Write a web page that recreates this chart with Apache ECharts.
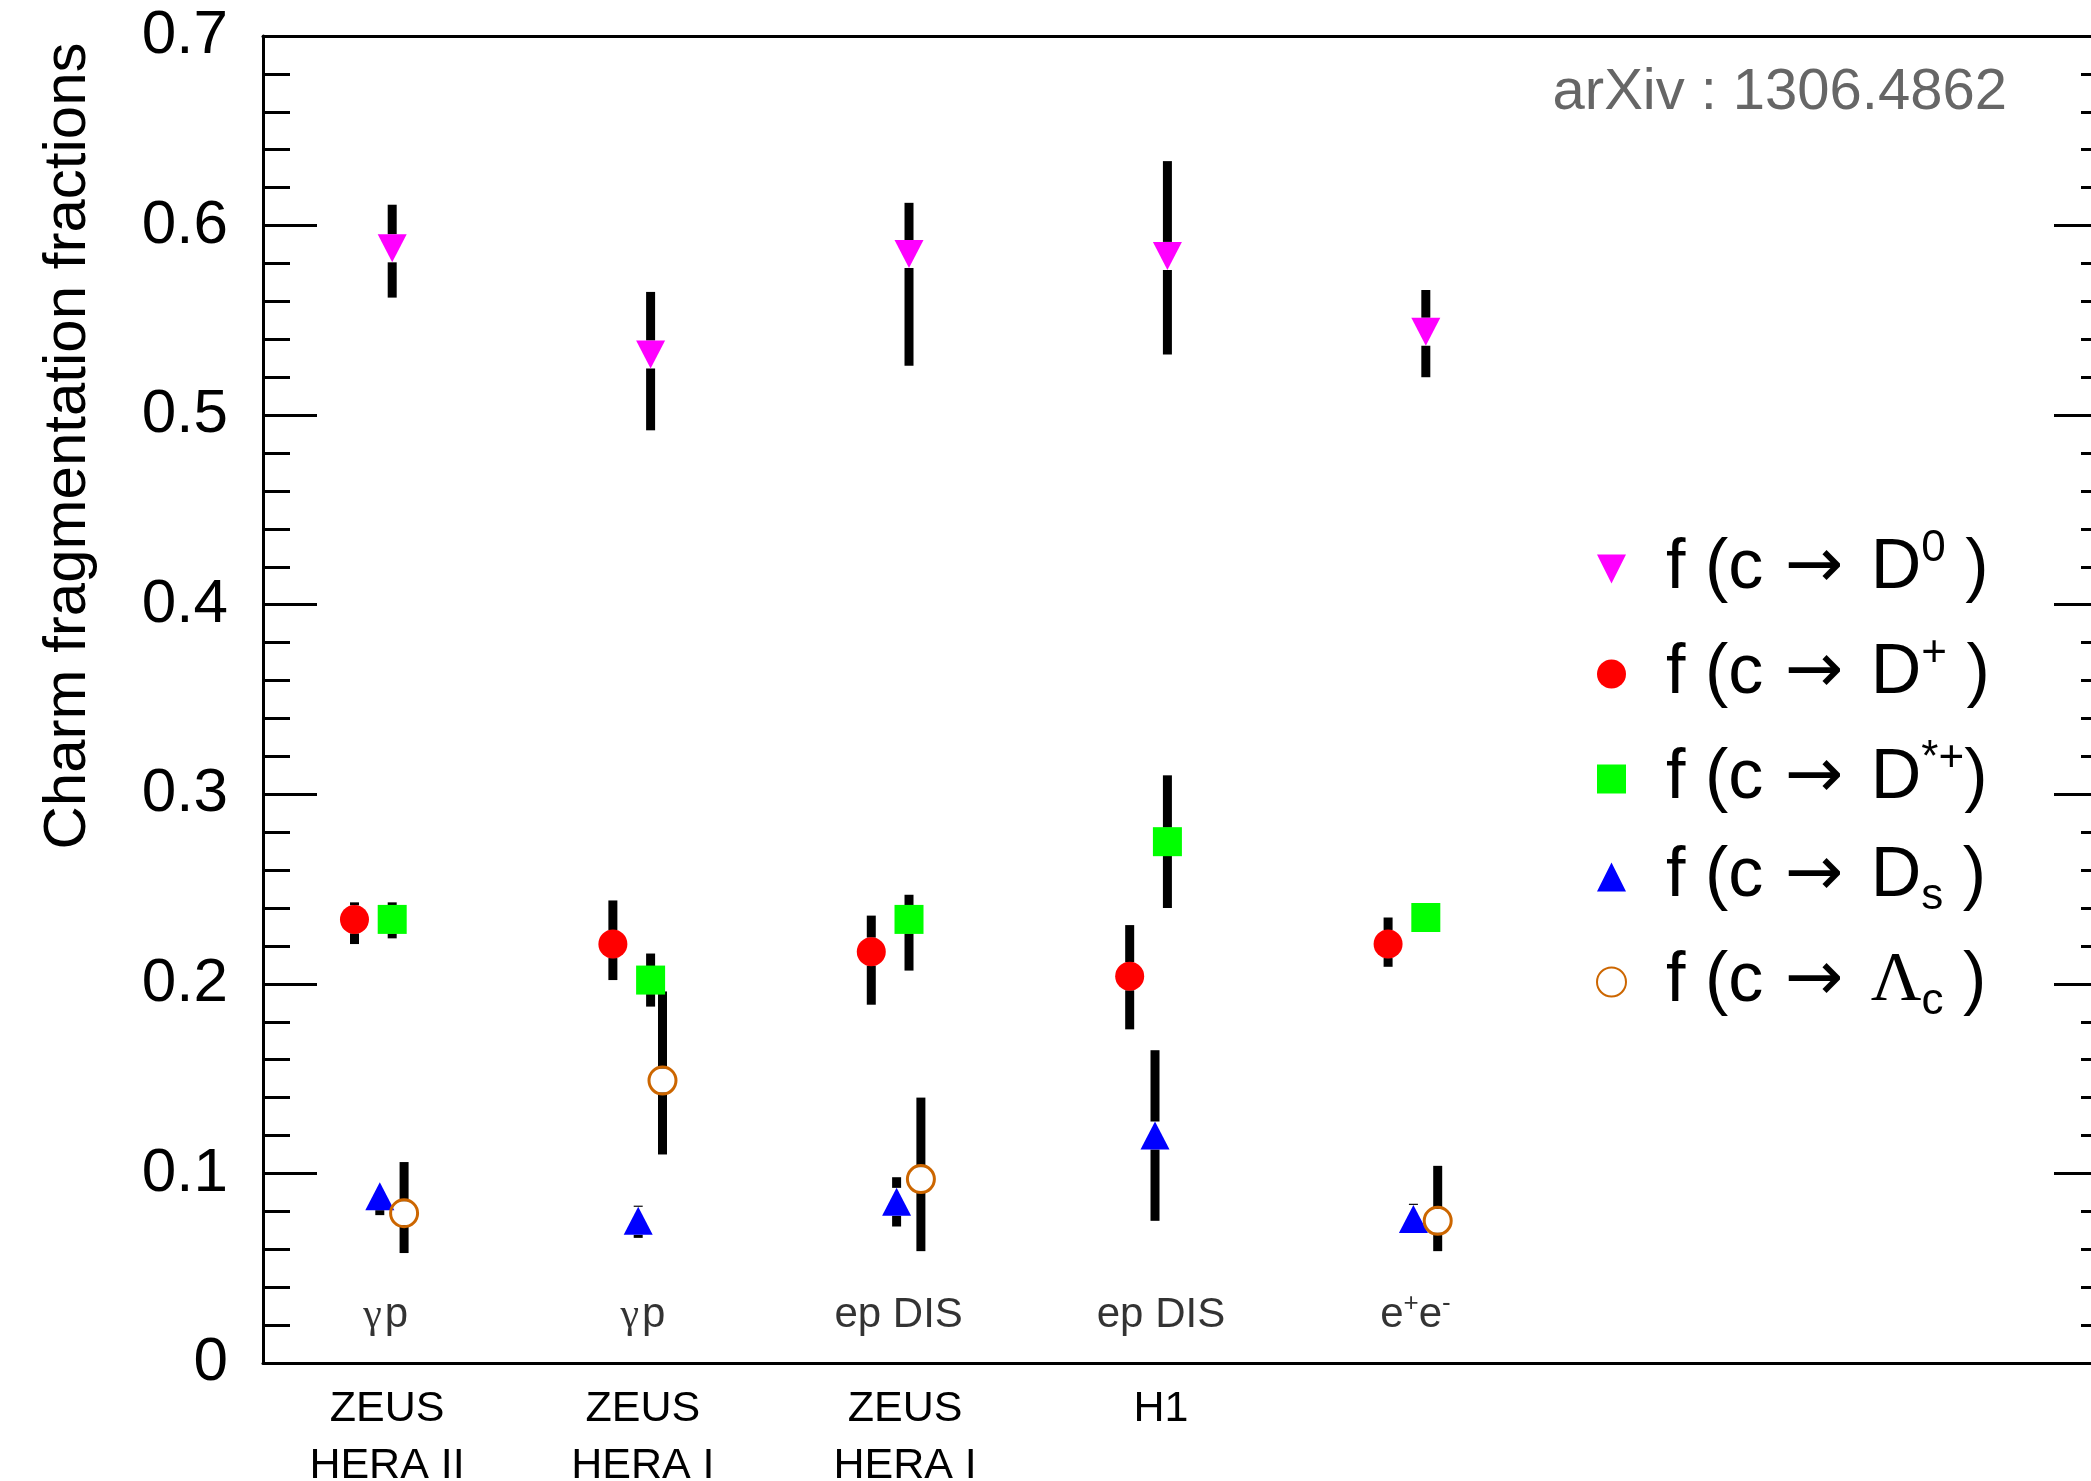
<!DOCTYPE html>
<html>
<head>
<meta charset="utf-8">
<script src="https://cdn.jsdelivr.net/npm/echarts@6/dist/echarts.min.js"></script>
<style>
html, body { margin: 0; padding: 0; background: #fff; }
#main { width: 2091px; height: 1481px; }
</style>
</head>
<body>
<div id="main"></div>
<script>
// experiments (below the axis) and processes (inside the frame)
var experiments = ['ZEUS\nHERA II', 'ZEUS\nHERA I', 'ZEUS\nHERA I', 'H1'];
var expLabelX = [0.98, 1.97, 2.985, 3.975];
var processes = ['γp', 'γp', 'ep DIS', 'ep DIS', 'e+e-'];
var procLabelX = [0.975, 1.97, 2.96, 3.975, 4.96];
var procLabelY = 0.025;
var groupX = [1, 2, 3, 4, 5];

var yTickLabels = ['0', '0.1', '0.2', '0.3', '0.4', '0.5', '0.6', '0.7'];

// f(c -> D0)
var d0Val = [0.588, 0.532, 0.585, 0.584, 0.544];
var d0Lo  = [0.562, 0.492, 0.526, 0.532, 0.520];
var d0Hi  = [0.611, 0.565, 0.612, 0.634, 0.566];
// f(c -> D+)
var dpVal = [0.234, 0.221, 0.217, 0.204, 0.221];
var dpLo  = [0.221, 0.202, 0.189, 0.176, 0.209];
var dpHi  = [0.243, 0.244, 0.236, 0.231, 0.235];
// f(c -> D*+)
var dstVal = [0.234, 0.202, 0.234, 0.275, 0.235];
var dstLo  = [0.224, 0.188, 0.207, 0.240, 0.229];
var dstHi  = [0.243, 0.216, 0.247, 0.310, 0.240];
// f(c -> Ds)
var dsVal = [0.088, 0.075, 0.085, 0.120, 0.076];
var dsLo  = [0.078, 0.066, 0.072, 0.075, 0.069];
var dsHi  = [0.095, 0.083, 0.098, 0.165, 0.084];
// f(c -> Lambda_c), no H1 value
var lcVal = [0.079, 0.149, 0.097, null, 0.075];
var lcLo  = [0.058, 0.110, 0.059, null, 0.059];
var lcHi  = [0.106, 0.196, 0.140, null, 0.104];

var species = [
    { name: 'D0',  val: d0Val,  lo: d0Lo,  hi: d0Hi,  dx: 0,      symbol: 'triangle', rotate: 180, size: [29, 28], color: '#ff00ff', gap: 14 },
    { name: 'D+',  val: dpVal,  lo: dpLo,  hi: dpHi,  dx: -0.146, symbol: 'circle',   rotate: 0,   size: 29,       color: '#ff0000', gap: 14 },
    { name: 'D*+', val: dstVal, lo: dstLo, hi: dstHi, dx: 0,      symbol: 'rect',     rotate: 0,   size: 29,       color: '#00ff00', gap: 14 },
    { name: 'Ds',  val: dsVal,  lo: dsLo,  hi: dsHi,  dx: -0.048, symbol: 'triangle', rotate: 0,   size: [29, 28], color: '#0000ff', gap: 14 },
    { name: 'Lc',  val: lcVal,  lo: lcLo,  hi: lcHi,  dx: 0.046,  symbol: 'circle',   rotate: 0,   size: 27,       color: '#cc6600', gap: 12, open: true }
];

var legendText = {
    'D0':  '{p|f (c }{arr|→}{m| D}{sup|0}{m| )}',
    'D+':  '{p|f (c }{arr|→}{m| D}{sup|+}{m| )}',
    'D*+': '{p|f (c }{arr|→}{m| D}{sup|*+}{m|)}',
    'Ds':  '{p|f (c }{arr|→}{m| D}{sub|s}{m| )}',
    'Lc':  '{p|f (c }{arr|→}{m| }{lam|Λ}{sub|c}{m| )}'
};

function procRich(t) {
    if (t === 'γp') return '{g|γ}{p|p}';
    if (t === 'e+e-') return '{t|e}{s|+}{t|e}{s|-}';
    return '{t|' + t + '}';
}

var myChart = echarts.init(document.getElementById('main'));

var series = [];
species.forEach(function (sp) {
    var errData = [], ptData = [];
    groupX.forEach(function (gx, i) {
        if (sp.val[i] == null) return;
        errData.push([gx + sp.dx, sp.lo[i], sp.hi[i], sp.val[i]]);
        ptData.push([gx + sp.dx, sp.val[i]]);
    });
    // error bar, split around the marker like ROOT does
    series.push({
        name: 'err ' + sp.name,
        type: 'custom',
        z: 2,
        silent: true,
        data: errData,
        renderItem: function (params, api) {
            var x = api.value(0);
            var top = api.coord([x, api.value(2)]);
            var bot = api.coord([x, api.value(1)]);
            var mid = api.coord([x, api.value(3)]);
            var w = 9, kids = [];
            if (mid[1] - sp.gap > top[1]) {
                kids.push({ type: 'rect', shape: { x: top[0] - w / 2, y: top[1], width: w, height: mid[1] - sp.gap - top[1] }, style: { fill: '#000' } });
            }
            if (bot[1] > mid[1] + sp.gap) {
                kids.push({ type: 'rect', shape: { x: top[0] - w / 2, y: mid[1] + sp.gap, width: w, height: bot[1] - mid[1] - sp.gap }, style: { fill: '#000' } });
            }
            return { type: 'group', children: kids };
        }
    });
    series.push({
        name: sp.name,
        type: 'scatter',
        z: 3,
        symbol: sp.symbol,
        symbolRotate: sp.rotate,
        symbolSize: sp.size,
        itemStyle: sp.open
            ? { color: 'rgba(0,0,0,0)', borderColor: sp.color, borderWidth: 3, opacity: 1 }
            : { color: sp.color, opacity: 1 },
        data: ptData
    });
});

// process labels inside the frame
series.push({
    name: 'process',
    type: 'scatter',
    symbolSize: 1,
    itemStyle: { color: 'rgba(0,0,0,0)' },
    silent: true,
    data: procLabelX.map(function (x, i) { return { value: [x, procLabelY], name: processes[i] }; }),
    label: {
        show: true,
        position: 'inside',
        formatter: function (p) { return procRich(p.name); },
        rich: {
            t: { fontSize: 42, fontFamily: 'Liberation Sans', color: '#000', lineHeight: 50 },
            p: { fontSize: 42, fontFamily: 'Liberation Sans', color: '#000', lineHeight: 50, padding: [0, 0, 0, 3] },
            g: { fontSize: 42, fontFamily: 'Liberation Serif', color: '#000', lineHeight: 50 },
            s: { fontSize: 26, fontFamily: 'Liberation Sans', color: '#000', lineHeight: 26, verticalAlign: 'top' }
        }
    }
});

var yAxisBase = {
    type: 'value',
    min: 0,
    max: 0.7,
    interval: 0.1,
    splitLine: { show: false },
    axisLine: { show: true, onZero: false, lineStyle: { color: '#000', width: 3 } },
    axisTick: { show: true, inside: true, length: 54, lineStyle: { color: '#000', width: 3 } },
    minorTick: { show: true, splitNumber: 5, length: 27, lineStyle: { color: '#000', width: 3 } }
};

var legendFont = { fontSize: 70, fontFamily: 'Liberation Sans', color: '#000', lineHeight: 84 };
var arxivFont = { fontSize: 58, fontWeight: 'normal', color: '#666666', fontFamily: 'Liberation Sans' };

option = {
    animation: false,
    backgroundColor: '#fff',
    title: {
        text: '{a|arXiv}{c|:}{a|1306.4862}',
        right: 84,
        top: 64,
        padding: 0,
        textStyle: {
            fontWeight: 'normal',
            rich: {
                a: arxivFont,
                c: Object.assign({}, arxivFont, { padding: [0, 16, 0, 16] })
            }
        }
    },
    grid: { left: 263, right: -17, top: 36, bottom: 118, containLabel: false, outerBoundsMode: 'none' },
    legend: {
        data: [
            { name: 'D0', icon: 'path://M0,0 L2,0 L1,2 Z' },
            'D+', 'D*+', 'Ds', 'Lc'
        ],
        orient: 'vertical',
        left: 1596,
        top: 527,
        padding: 0,
        itemGap: 28,
        itemWidth: 29,
        itemHeight: 29,
        selectedMode: false,
        formatter: function (name) { return legendText[name]; },
        textStyle: {
            rich: {
                p: Object.assign({}, legendFont, { padding: [0, 0, 0, 35] }),
                m: legendFont,
                arr: Object.assign({}, legendFont, { fontFamily: 'DejaVu Sans', padding: [0, 8, 0, 2] }),
                lam: Object.assign({}, legendFont, { fontFamily: 'Liberation Serif' }),
                sup: { fontSize: 44, fontFamily: 'Liberation Sans', color: '#000', lineHeight: 32, verticalAlign: 'top' },
                sub: { fontSize: 44, fontFamily: 'Liberation Sans', color: '#000', lineHeight: 46, verticalAlign: 'bottom' }
            }
        }
    },
    graphic: [{
        type: 'text',
        x: 68,
        y: 446,
        rotation: Math.PI / 2,
        style: {
            text: 'Charm fragmentation fractions',
            font: '60px "Liberation Sans"',
            fill: '#000',
            align: 'center',
            verticalAlign: 'middle'
        }
    }],
    xAxis: [
        {
            type: 'value',
            min: 0.5,
            max: 7.64,
            position: 'bottom',
            splitLine: { show: false },
            axisLine: { show: true, onZero: false, lineStyle: { color: '#000', width: 3 } },
            axisTick: { show: false },
            axisLabel: {
                show: true,
                customValues: expLabelX,
                margin: 18,
                fontSize: 43,
                lineHeight: 57,
                color: '#000',
                fontFamily: 'Liberation Sans',
                formatter: function (v) {
                    var i = expLabelX.indexOf(v);
                    return i >= 0 ? experiments[i] : '';
                }
            }
        },
        {
            type: 'value',
            min: 0.5,
            max: 7.64,
            position: 'top',
            splitLine: { show: false },
            axisLine: { show: true, onZero: false, lineStyle: { color: '#000', width: 3 } },
            axisTick: { show: false },
            axisLabel: { show: false }
        }
    ],
    yAxis: [
        Object.assign({}, yAxisBase, {
            position: 'left',
            axisLabel: {
                show: true,
                margin: 35,
                fontSize: 62,
                color: '#000',
                fontFamily: 'Liberation Sans',
                formatter: function (v) { return yTickLabels[Math.round(v * 10)]; }
            }
        }),
        Object.assign({}, yAxisBase, {
            position: 'right',
            axisLabel: { show: false }
        })
    ],
    series: series
};

myChart.setOption(option);
</script>
</body>
</html>
